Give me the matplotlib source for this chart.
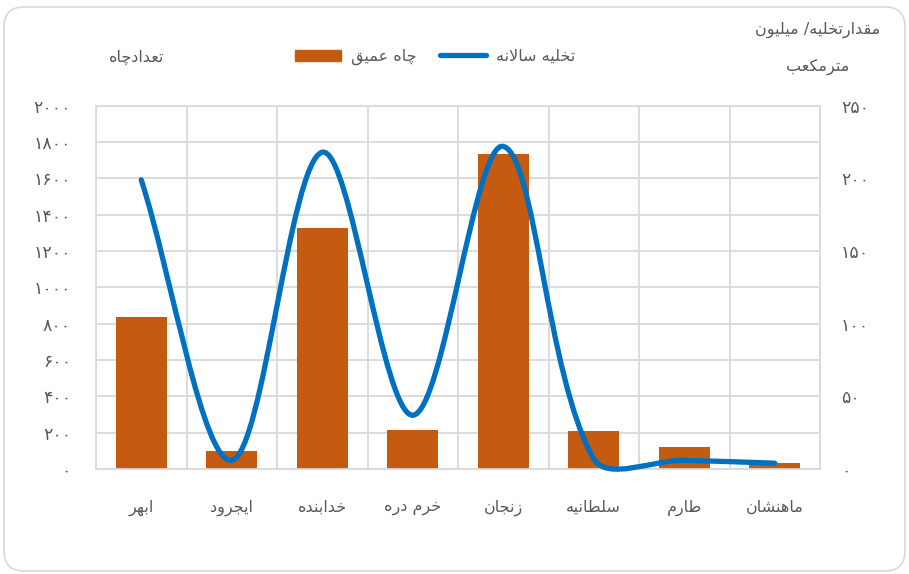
import numpy as np
import matplotlib.pyplot as plt
from matplotlib.path import Path
from matplotlib.patches import PathPatch, FancyBboxPatch, Patch
from matplotlib.lines import Line2D

# data
districts = ['ابهر', 'ایجرود', 'خدابنده', 'خرم دره', 'زنجان', 'سلطانیه', 'طارم', 'ماهنشان']
deep_wells = [835, 97, 1328, 213, 1734, 211, 121, 31]          # left axis
annual_discharge = [199, 6, 218, 37, 222, 7, 6, 4]             # right axis, million m3
left_ticks = [0, 200, 400, 600, 800, 1000, 1200, 1400, 1600, 1800, 2000]
right_ticks = [0, 50, 100, 150, 200, 250]

bar_color = '#C55A11'
line_color = '#0070C0'
grid_color = '#D9D9D9'
text_color = '#595959'

# matplotlib does no arabic shaping, so pick presentation forms by hand
FORMS = {  # isolated, final, initial, medial
    'ا': ('\uFE8D', '\uFE8E', None, None),
    'ب': ('\uFE8F', '\uFE90', '\uFE91', '\uFE92'),
    'ت': ('\uFE95', '\uFE96', '\uFE97', '\uFE98'),
    'ج': ('\uFE9D', '\uFE9E', '\uFE9F', '\uFEA0'),
    'خ': ('\uFEA5', '\uFEA6', '\uFEA7', '\uFEA8'),
    'د': ('\uFEA9', '\uFEAA', None, None),
    'ر': ('\uFEAD', '\uFEAE', None, None),
    'ز': ('\uFEAF', '\uFEB0', None, None),
    'س': ('\uFEB1', '\uFEB2', '\uFEB3', '\uFEB4'),
    'ش': ('\uFEB5', '\uFEB6', '\uFEB7', '\uFEB8'),
    'ط': ('\uFEC1', '\uFEC2', '\uFEC3', '\uFEC4'),
    'ع': ('\uFEC9', '\uFECA', '\uFECB', '\uFECC'),
    'ق': ('\uFED5', '\uFED6', '\uFED7', '\uFED8'),
    'ل': ('\uFEDD', '\uFEDE', '\uFEDF', '\uFEE0'),
    'م': ('\uFEE1', '\uFEE2', '\uFEE3', '\uFEE4'),
    'ن': ('\uFEE5', '\uFEE6', '\uFEE7', '\uFEE8'),
    'ه': ('\uFEE9', '\uFEEA', '\uFEEB', '\uFEEC'),
    'و': ('\uFEED', '\uFEEE', None, None),
    'ی': ('\uFBFC', '\uFBFD', '\uFBFE', '\uFBFF'),
    'ک': ('\uFB8E', '\uFB8F', '\uFB90', '\uFB91'),
    'چ': ('\uFB7A', '\uFB7B', '\uFB7C', '\uFB7D'),
    'لا': ('\uFEFB', '\uFEFC', None, None),
}


def fa(text):
    units = []
    i = 0
    while i < len(text):
        if text[i] == 'ل' and i + 1 < len(text) and text[i + 1] == 'ا':
            units.append('لا')
            i += 2
        else:
            units.append(text[i])
            i += 1
    out = []
    for k, u in enumerate(units):
        if u not in FORMS:
            out.append(u)
            continue
        prev = units[k - 1] if k > 0 else None
        nxt = units[k + 1] if k + 1 < len(units) else None
        join_prev = prev in FORMS and FORMS[prev][2] is not None
        join_next = nxt in FORMS and FORMS[u][2] is not None
        f = FORMS[u]
        if join_prev and join_next:
            out.append(f[3])
        elif join_prev:
            out.append(f[1])
        elif join_next:
            out.append(f[2])
        else:
            out.append(f[0])
    return ''.join(out)[::-1]


def fa_num(n):
    return str(n).translate(str.maketrans('0123456789', '۰۱۲۳۴۵۶۷۸۹'))


def smooth_path(ax, xs, ys):
    # excel-like smoothed line: cubic bezier, tangents scaled by segment length
    pts = ax.transData.transform(np.column_stack([xs, ys]))
    n = len(pts)
    verts = [pts[0]]
    codes = [Path.MOVETO]
    for i in range(n - 1):
        p0 = pts[max(i - 1, 0)]
        p1 = pts[i]
        p2 = pts[i + 1]
        p3 = pts[min(i + 2, n - 1)]
        d01 = np.hypot(*(p1 - p0))
        d12 = np.hypot(*(p2 - p1))
        d23 = np.hypot(*(p3 - p2))
        c1 = p1 + (p2 - p0) * d12 / (d01 + d12) / 3
        c2 = p2 - (p3 - p1) * d12 / (d12 + d23) / 3
        verts += [c1, c2, p2]
        codes += [Path.CURVE4] * 3
    verts = ax.transData.inverted().transform(np.array(verts))
    return Path(verts, codes)


plt.rcParams['font.family'] = ['DejaVu Sans']

fig = plt.figure(figsize=(9.09, 5.74), dpi=100, facecolor='white')
fig.patches.append(FancyBboxPatch((0.04, 0.03), 9.01, 5.64,
                                  boxstyle='round,pad=0,rounding_size=0.2',
                                  transform=fig.dpi_scale_trans,
                                  fc='none', ec=grid_color, lw=1.2, zorder=-1))

ax = fig.add_axes([96 / 909, 1 - 469 / 574, (820 - 96) / 909, (469 - 105.7) / 574])
ax.patch.set_alpha(0)
x = np.arange(len(districts))
ax.bar(x, deep_wells, width=0.565, color=bar_color, zorder=2)
ax.set_xlim(-0.5, len(districts) - 0.5)
ax.set_ylim(0, 2000)
ax.set_yticks(left_ticks)
ax.set_yticklabels([fa_num(v) for v in left_ticks])
ax.set_xticks(x)
ax.set_xticklabels([fa(d) for d in districts])
ax.set_xticks(np.arange(-0.5, len(districts)), minor=True)
ax.grid(True, axis='y', color=grid_color, lw=1.3)
ax.grid(True, axis='x', which='minor', color=grid_color, lw=1.3)
ax.set_axisbelow(True)
ax.tick_params(axis='both', which='both', length=0, colors=text_color)
ax.tick_params(axis='x', labelsize=11.5, pad=22)
ax.tick_params(axis='y', labelsize=12.5, pad=18)
for s in ax.spines.values():
    s.set_color(grid_color)
    s.set_linewidth(1.3)

ax2 = ax.twinx()
ax2.set_ylim(0, 250)
ax2.set_yticks(right_ticks)
ax2.set_yticklabels([fa_num(v) for v in right_ticks])
ax2.tick_params(axis='y', length=0, colors=text_color, labelsize=12.5, pad=15)
for s in ax2.spines.values():
    s.set_visible(False)

path = smooth_path(ax2, x, annual_discharge)
ax2.add_patch(PathPatch(path, fill=False, ec=line_color, lw=3.8,
                        capstyle='round', joinstyle='round', clip_on=False, zorder=3))

fig.text(137 / 909, 1 - 57 / 574, fa('تعدادچاه'), ha='center', va='center',
         fontsize=11.5, color=text_color)
fig.text(818 / 909, 1 - 30 / 574, fa('مقدارتخلیه/ میلیون'), ha='center', va='center',
         fontsize=11.5, color=text_color)
fig.text(818 / 909, 1 - 67 / 574, fa('مترمکعب'), ha='center', va='center',
         fontsize=11.5, color=text_color)

handles = [Patch(color=bar_color), Line2D([], [], color=line_color, lw=3.8, solid_capstyle='round')]
fig.legend(handles, [fa('چاه عمیق'), fa('تخلیه سالانه')], ncol=2, frameon=False,
           loc='center', bbox_to_anchor=(435 / 909, 1 - 57 / 574), fontsize=11.5,
           handlelength=2.9, handleheight=0.7, handletextpad=0.6, columnspacing=1.5,
           labelcolor=text_color)

fig.savefig('out.png', dpi=100)
